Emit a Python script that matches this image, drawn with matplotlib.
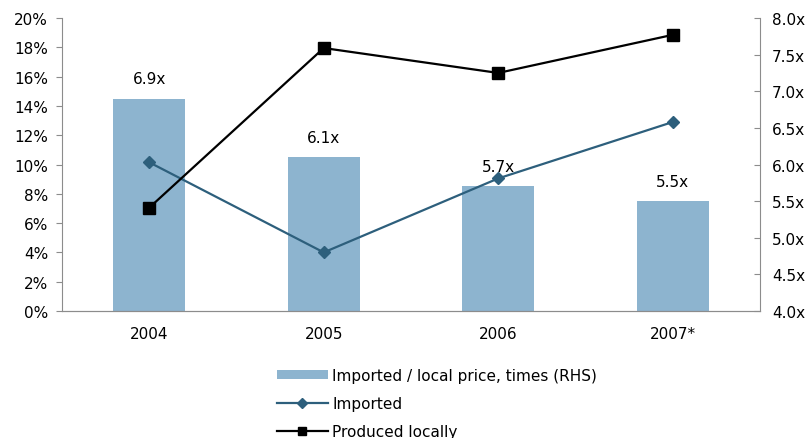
import matplotlib.pyplot as plt
import numpy as np

years = ["2004", "2005", "2006", "2007*"]
price_ratio = [6.9, 6.1, 5.7, 5.5]
imported = [10.15, 4.0, 9.05, 12.9]
produced_locally = [7.05, 17.95, 16.25, 18.85]

plt.rcParams['font.family'] = ['DejaVu Sans']
plt.rcParams['font.size'] = 11

fig = plt.figure(figsize=(8.08, 4.39), dpi=100)
ax = fig.add_axes([0.0767, 0.2893, 0.8639, 0.6674])
ax2 = ax.twinx()

x = np.arange(len(years))
grey = "#8c8c8c"

# bars on the right hand axis
bars = ax2.bar(x, price_ratio, width=0.41, color="#8db4cf", zorder=1,
               label="Imported / local price, times (RHS)")
for xi, v in zip(x, price_ratio):
    ax2.annotate(f"{v:.1f}x", (xi, v), xytext=(0, 9), textcoords="offset points",
                 ha="center", va="bottom", fontsize=11)

ax2.set_ylim(4.0, 8.0)
ax2.set_yticks(np.arange(4.0, 8.01, 0.5))
ax2.set_yticklabels([f"{t:.1f}x" for t in np.arange(4.0, 8.01, 0.5)])

# lines on the left axis, drawn above the bars
ax.set_zorder(ax2.get_zorder() + 1)
ax.patch.set_visible(False)
l1, = ax.plot(x, imported, color="#2d5f7c", marker="D", markersize=6.3, lw=1.6,
              label="Imported")
l2, = ax.plot(x, produced_locally, color="black", marker="s", markersize=8, lw=1.6,
              label="Produced locally")

ax.set_ylim(0, 20)
ax.set_yticks(np.arange(0, 21, 2))
ax.set_yticklabels([f"{t}%" for t in range(0, 21, 2)])
ax.set_xlim(-0.5, 3.5)
ax.set_xticks(x)
ax.set_xticklabels(years)
ax.tick_params(axis="x", length=0, pad=11)
ax.tick_params(axis="y", length=4, color=grey, pad=6)
ax2.tick_params(axis="y", direction="in", length=4, color=grey, pad=8.5)

for a in (ax, ax2):
    a.spines["top"].set_visible(False)
    for s in ("left", "right", "bottom"):
        a.spines[s].set_color(grey)
ax.spines["right"].set_visible(False)
ax2.spines["left"].set_visible(False)

fig.legend(handles=[bars, l1, l2], loc="upper left", bbox_to_anchor=(0.343, 0.16),
           frameon=False, handlelength=3.3, handleheight=0.6, handletextpad=0.3,
           labelspacing=0.85, borderaxespad=0, borderpad=0, markerscale=0.75)

fig.savefig("out.png", dpi=100)
